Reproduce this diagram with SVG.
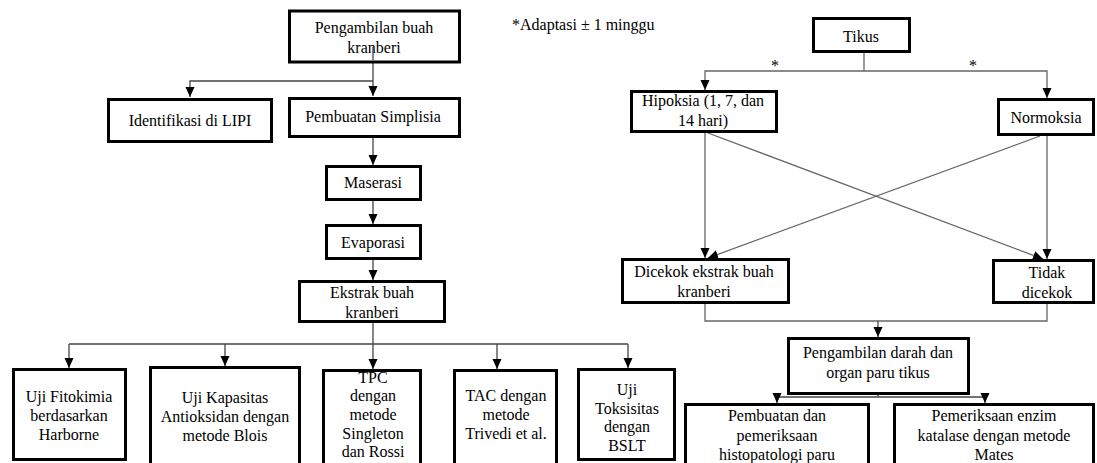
<svg xmlns="http://www.w3.org/2000/svg" width="1097" height="463" viewBox="0 0 1097 463">
<style>
.box{fill:#fff;stroke:#000;stroke-width:3}
.t{font-family:"Liberation Serif","Times New Roman",serif;font-size:16px;fill:#000;text-anchor:middle}
.c{fill:none;stroke:#444;stroke-width:1.3}
.cr{fill:none;stroke:#666;stroke-width:1.3}
</style>
<defs>
<marker id="ah" markerUnits="userSpaceOnUse" markerWidth="10" markerHeight="10" viewBox="0 0 10 10" refX="10" refY="5" orient="auto">
<path d="M0,0.5 L10,5 L0,9.5 Z" fill="#000"/>
</marker>
</defs>
<rect width="1097" height="463" fill="#fff"/>

<g id="connectors">
<path class="c" d="M373,54 V96" marker-end="url(#ah)"/>
<path class="c" d="M373,81 H190 V97" marker-end="url(#ah)"/>
<path class="c" d="M373,138 V165" marker-end="url(#ah)"/>
<path class="c" d="M373,201 V224" marker-end="url(#ah)"/>
<path class="c" d="M373,260 V280" marker-end="url(#ah)"/>
<path class="c" d="M373,323 V369" marker-end="url(#ah)"/>
<path class="c" d="M69,344 H628"/>
<path class="c" d="M69,344 V368" marker-end="url(#ah)"/>
<path class="c" d="M225,344 V366" marker-end="url(#ah)"/>
<path class="c" d="M497,344 V369" marker-end="url(#ah)"/>
<path class="c" d="M628,344 V368" marker-end="url(#ah)"/>

<path class="cr" d="M864,53 V71"/>
<path class="cr" d="M864,71 H705 V90" marker-end="url(#ah)"/>
<path class="cr" d="M864,71 H1047 V98" marker-end="url(#ah)"/>
<path class="cr" d="M705,133 V258" marker-end="url(#ah)"/>
<path class="cr" d="M708,133 L1043,259" marker-end="url(#ah)"/>
<path class="cr" d="M1040,136 L708,258" marker-end="url(#ah)"/>
<path class="cr" d="M1047,136 V259" marker-end="url(#ah)"/>
<path class="cr" d="M705,304 V321 H1047 V304"/>
<path class="c" d="M878,321 V337" marker-end="url(#ah)"/>
<path class="c" d="M878,395 V397"/>
<path class="c" d="M777,397 H985"/>
<path class="c" d="M777,397 V403" marker-end="url(#ah)"/>
<path class="c" d="M985,397 V403" marker-end="url(#ah)"/>
</g>

<g id="n-pengambilan">
<rect class="box" x="289.5" y="11" width="170" height="51"/>
<text class="t" x="374" y="33">Pengambilan buah</text>
<text class="t" x="374" y="53">kranberi</text>
</g>
<path class="c" d="M373,47 V60"/>
<g id="n-identifikasi">
<rect class="box" x="108.5" y="99.5" width="163" height="42"/>
<text class="t" x="190" y="126">Identifikasi di LIPI</text>
</g>
<g id="n-simplisia">
<rect class="box" x="289.5" y="98.5" width="170" height="38"/>
<text class="t" x="373" y="122">Pembuatan Simplisia</text>
</g>
<g id="n-maserasi">
<rect class="box" x="326.5" y="166.5" width="94" height="33"/>
<text class="t" x="373" y="188">Maserasi</text>
</g>
<g id="n-evaporasi">
<rect class="box" x="326.5" y="225.5" width="94" height="33"/>
<text class="t" x="373" y="248">Evaporasi</text>
</g>
<g id="n-ekstrak">
<rect class="box" x="299.5" y="281.5" width="145" height="40"/>
<text class="t" x="372" y="298">Ekstrak buah</text>
<text class="t" x="372" y="318">kranberi</text>
</g>
<g id="n-fitokimia">
<rect class="box" x="13.5" y="369.5" width="112" height="90"/>
<text class="t" x="69" y="402">Uji Fitokimia</text>
<text class="t" x="69" y="421">berdasarkan</text>
<text class="t" x="69" y="440">Harborne</text>
</g>
<g id="n-kapasitas">
<rect class="box" x="150.5" y="367.5" width="149" height="110"/>
<text class="t" x="225" y="403">Uji Kapasitas</text>
<text class="t" x="225" y="422">Antioksidan dengan</text>
<text class="t" x="225" y="441">metode Blois</text>
</g>
<g id="n-tpc">
<rect class="box" x="323.5" y="370.5" width="97" height="110"/>
<text class="t" x="373" y="383">TPC</text>
<text class="t" x="373" y="401">dengan</text>
<text class="t" x="373" y="420">metode</text>
<text class="t" x="373" y="439">Singleton</text>
<text class="t" x="373" y="457">dan Rossi</text>
</g>
<g id="n-tac">
<rect class="box" x="454.5" y="370.5" width="102" height="110"/>
<text class="t" x="506" y="401">TAC dengan</text>
<text class="t" x="506" y="420">metode</text>
<text class="t" x="506" y="439">Trivedi et al.</text>
</g>
<g id="n-toksisitas">
<rect class="box" x="578.5" y="369.5" width="96" height="90"/>
<text class="t" x="627" y="395">Uji</text>
<text class="t" x="627" y="414">Toksisitas</text>
<text class="t" x="627" y="432">dengan</text>
<text class="t" x="627" y="451">BSLT</text>
</g>

<g id="note">
<text class="t" x="512" y="30" style="text-anchor:start">*Adaptasi ± 1 minggu</text>
<text class="t" x="775" y="71">*</text>
<text class="t" x="973" y="71">*</text>
</g>
<g id="n-tikus">
<rect class="box" x="813.5" y="18.5" width="96" height="33"/>
<text class="t" x="861" y="42">Tikus</text>
</g>
<g id="n-hipoksia">
<rect class="box" x="631.5" y="91.5" width="145" height="40"/>
<text class="t" x="703" y="106">Hipoksia (1, 7, dan</text>
<text class="t" x="703" y="126">14 hari)</text>
</g>
<g id="n-normoksia">
<rect class="box" x="998.5" y="99.5" width="95" height="35"/>
<text class="t" x="1046" y="123">Normoksia</text>
</g>
<g id="n-dicekok">
<rect class="box" x="622.5" y="259.5" width="166" height="43"/>
<text class="t" x="704" y="277">Dicekok ekstrak buah</text>
<text class="t" x="704" y="297">kranberi</text>
</g>
<g id="n-tidak">
<rect class="box" x="993.5" y="260.5" width="100" height="42"/>
<text class="t" x="1047" y="278">Tidak</text>
<text class="t" x="1047" y="298">dicekok</text>
</g>
<g id="n-darah">
<rect class="box" x="788.5" y="338.5" width="180" height="55"/>
<text class="t" x="878" y="358">Pengambilan darah dan</text>
<text class="t" x="878" y="378">organ paru tikus</text>
</g>
<g id="n-histopatologi">
<rect class="box" x="685.5" y="404.5" width="183" height="80"/>
<text class="t" x="777" y="421">Pembuatan dan</text>
<text class="t" x="777" y="441">pemeriksaan</text>
<text class="t" x="777" y="460">histopatologi paru</text>
</g>
<g id="n-katalase">
<rect class="box" x="894.5" y="404.5" width="199" height="80"/>
<text class="t" x="994" y="421">Pemeriksaan enzim</text>
<text class="t" x="994" y="441">katalase dengan metode</text>
<text class="t" x="994" y="460">Mates</text>
</g>
</svg>
